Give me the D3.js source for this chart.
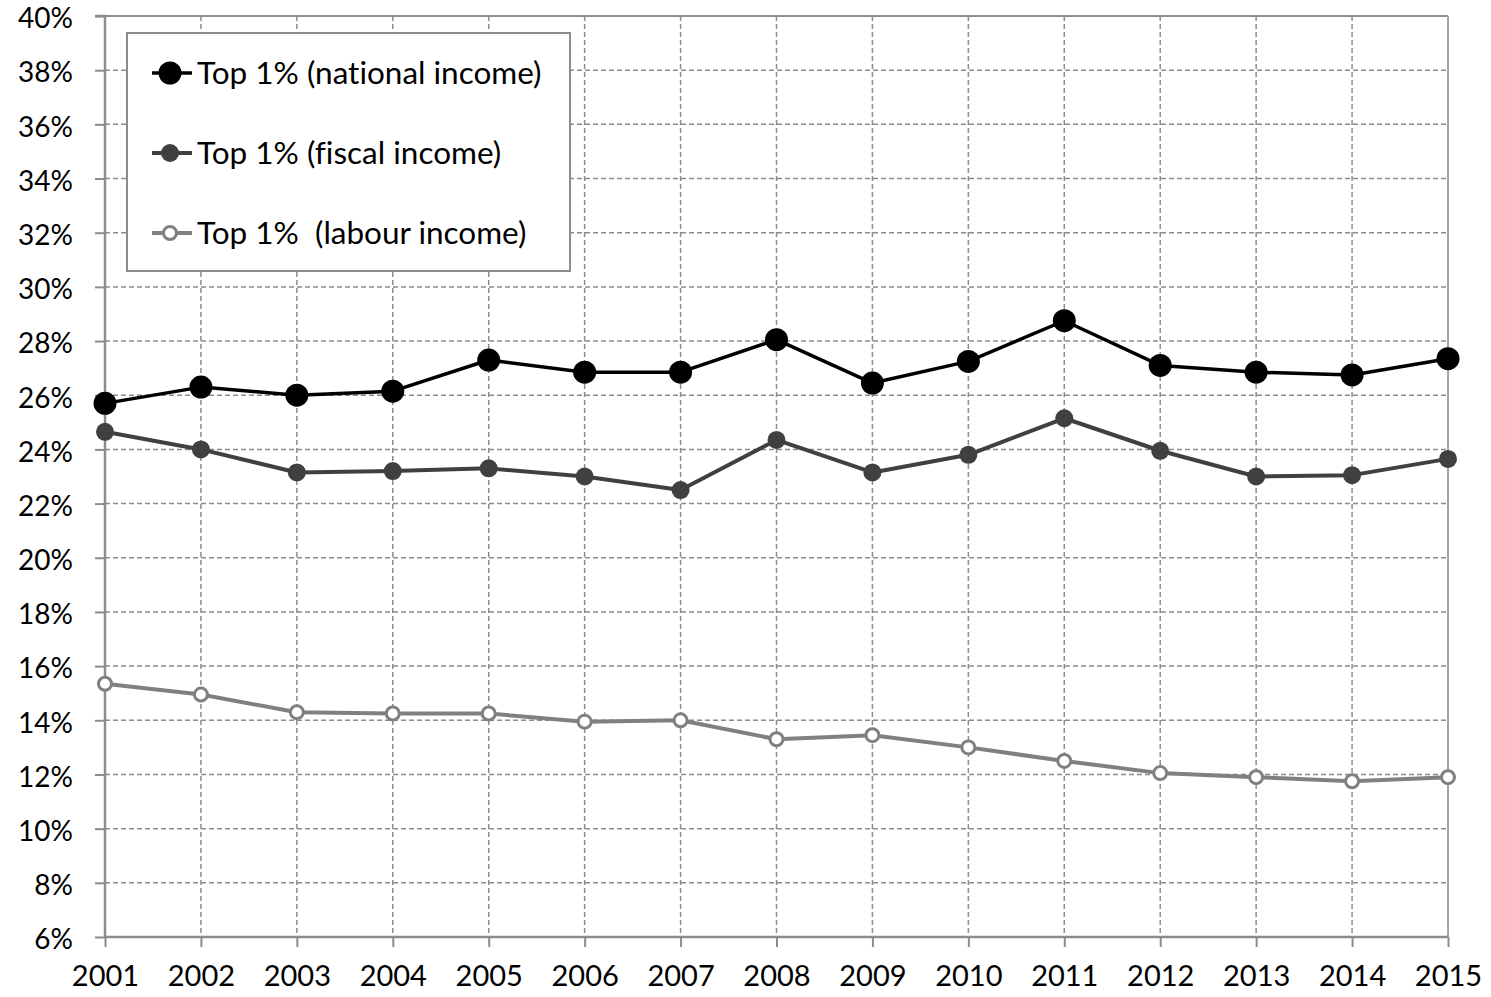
<!DOCTYPE html>
<html>
<head>
<meta charset="utf-8">
<script src="https://cdn.jsdelivr.net/npm/d3@7"></script>
<style>
  html, body { margin: 0; padding: 0; background: #fff; }
  svg { display: block; font-family: Lato, "Open Sans", sans-serif; font-variant-ligatures: none; }
</style>
</head>
<body>
<svg id="chart" width="1491" height="997"></svg>
<script>
// Years on the x axis
const years = [2001, 2002, 2003, 2004, 2005, 2006, 2007, 2008, 2009, 2010, 2011, 2012, 2013, 2014, 2015];

// Top 1% income shares, in percent
const nationalIncome = [25.7, 26.3, 26.0, 26.15, 27.3, 26.85, 26.85, 28.05, 26.45, 27.25, 28.75, 27.1, 26.85, 26.75, 27.35];
const fiscalIncome   = [24.65, 24.0, 23.15, 23.2, 23.3, 23.0, 22.5, 24.35, 23.15, 23.8, 25.15, 23.95, 23.0, 23.05, 23.65];
const labourIncome   = [15.35, 14.95, 14.3, 14.25, 14.25, 13.95, 14.0, 13.3, 13.45, 13.0, 12.5, 12.05, 11.9, 11.75, 11.9];

// Y axis tick values and legend labels
const yTicks = [6, 8, 10, 12, 14, 16, 18, 20, 22, 24, 26, 28, 30, 32, 34, 36, 38, 40];
const seriesNames = ["Top 1% (national income)", "Top 1% (fiscal income)", "Top 1%  (labour income)"];

const series = [
  { name: seriesNames[0], values: nationalIncome, color: "#000000", width: 3.5, r: 11.5, fill: "#000000", stroke: "none", sw: 0 },
  { name: seriesNames[1], values: fiscalIncome,   color: "#404040", width: 4,   r: 9,    fill: "#404040", stroke: "none", sw: 0 },
  { name: seriesNames[2], values: labourIncome,   color: "#808080", width: 4,   r: 6.5,  fill: "#ffffff", stroke: "#808080", sw: 3 }
];

const svg = d3.select("#chart");
const plotLeft = 105, plotRight = 1448, plotTop = 16, plotBottom = 937;

const x = d3.scaleLinear().domain([2001, 2015]).range([plotLeft, plotRight]);
const y = d3.scaleLinear().domain([6, 40]).range([plotBottom, plotTop]);

const gridColor = "#8c8c8c";

// Horizontal grid lines
svg.append("g").selectAll("line").data(yTicks.filter(t => t !== 6 && t !== 40)).join("line")
  .attr("x1", plotLeft).attr("x2", plotRight)
  .attr("y1", d => y(d)).attr("y2", d => y(d))
  .attr("stroke", gridColor).attr("stroke-width", 1.5).attr("stroke-dasharray", "5,3");

// Vertical grid lines
svg.append("g").selectAll("line").data(years.filter(t => t !== 2001 && t !== 2015)).join("line")
  .attr("x1", d => x(d)).attr("x2", d => x(d))
  .attr("y1", plotTop).attr("y2", plotBottom)
  .attr("stroke", gridColor).attr("stroke-width", 1.5).attr("stroke-dasharray", "5,3");

// Plot frame (top and right edges)
svg.append("line").attr("x1", plotLeft).attr("x2", plotRight).attr("y1", y(40)).attr("y2", y(40))
  .attr("stroke", gridColor).attr("stroke-width", 2);
svg.append("line").attr("x1", plotRight).attr("x2", plotRight).attr("y1", plotTop).attr("y2", plotBottom)
  .attr("stroke", "#a6a6a6").attr("stroke-width", 2);

// Y axis
const yAxis = svg.append("g").attr("transform", `translate(${plotLeft},0)`)
  .call(d3.axisLeft(y).tickValues(yTicks).tickFormat(d => d + "%").tickSize(10).tickPadding(22));
// X axis
const xAxis = svg.append("g").attr("transform", `translate(0,${plotBottom})`)
  .call(d3.axisBottom(x).tickValues(years).tickFormat(d3.format("d")).tickSize(10).tickPadding(18));

[yAxis, xAxis].forEach(g => {
  g.select(".domain").attr("stroke", gridColor).attr("stroke-width", 2.5);
  g.selectAll(".tick line").attr("stroke", gridColor).attr("stroke-width", 2);
  g.selectAll(".tick text").attr("fill", "#000").style("font-size", "28px")
    .style("font-family", "Lato, 'Open Sans', sans-serif");
});
yAxis.select(".domain").attr("d", `M-10,${y(40)}H0V${plotBottom}`);
yAxis.selectAll(".tick text").attr("dy", "0.42em");
xAxis.select(".domain").attr("d", `M${plotLeft},0H${plotRight}`);
xAxis.selectAll(".tick text").attr("dy", "0.71em").style("font-size", "29px");

// Series lines and markers
const line = d3.line().x((d, i) => x(years[i])).y(d => y(d));
series.forEach(s => {
  svg.append("path").datum(s.values)
    .attr("d", line).attr("fill", "none")
    .attr("stroke", s.color).attr("stroke-width", s.width).attr("stroke-linejoin", "round");
  svg.append("g").selectAll("circle").data(s.values).join("circle")
    .attr("cx", (d, i) => x(years[i])).attr("cy", d => y(d)).attr("r", s.r)
    .attr("fill", s.fill).attr("stroke", s.stroke).attr("stroke-width", s.sw);
});

// Legend
const legend = svg.append("g");
legend.append("rect").attr("x", 127).attr("y", 33).attr("width", 443).attr("height", 238)
  .attr("fill", "#fff").attr("stroke", "#8c8c8c").attr("stroke-width", 2);
series.forEach((s, i) => {
  const ly = 73 + i * 80;
  legend.append("line").attr("x1", 152).attr("x2", 192).attr("y1", ly).attr("y2", ly)
    .attr("stroke", s.color).attr("stroke-width", s.width);
  legend.append("circle").attr("cx", 170).attr("cy", ly).attr("r", s.r)
    .attr("fill", s.fill).attr("stroke", s.stroke).attr("stroke-width", s.sw);
  legend.append("text").attr("x", 197).attr("y", ly).attr("dy", "0.36em")
    .style("font-size", "31.5px").style("white-space", "pre").attr("fill", "#000").text(s.name);
});
</script>
</body>
</html>
